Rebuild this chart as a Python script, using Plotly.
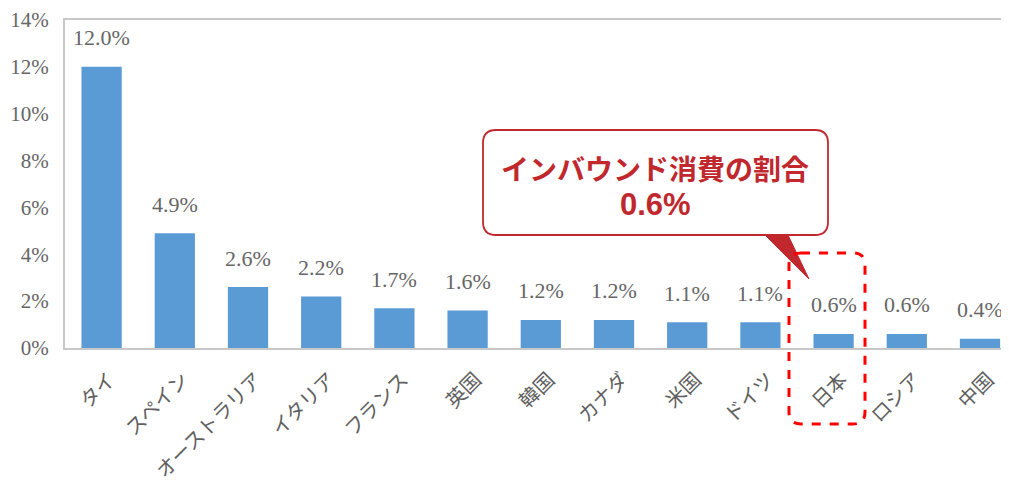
import plotly.graph_objects as go

categories = ["タイ", "スペイン", "オーストラリア", "イタリア", "フランス", "英国", "韓国",
              "カナダ", "米国", "ドイツ", "日本", "ロシア", "中国"]
values = [12.0, 4.9, 2.6, 2.2, 1.7, 1.6, 1.2, 1.2, 1.1, 1.1, 0.6, 0.6, 0.4]
value_labels = ["12.0%", "4.9%", "2.6%", "2.2%", "1.7%", "1.6%", "1.2%", "1.2%",
                "1.1%", "1.1%", "0.6%", "0.6%", "0.4%"]
ytick_vals = [0, 2, 4, 6, 8, 10, 12, 14]
ytick_text = ["0%", "2%", "4%", "6%", "8%", "10%", "12%", "14%"]
callout_title = "インバウンド消費の割合"
callout_value = "0.6%"

W, H = 1009, 486
OFF = 8  # page body margin offset
# plot area in screen pixels (right edge lies beyond the window, as in the reference)
L, R, T, B = 65, 1017, 20, 348
BAND = 73.2

def px(x):
    return (x - L) / (R - L)

def py(y):
    return (B - y) / (B - T)

serif = "Liberation Serif, DejaVu Serif, serif"
jp = "Noto Sans CJK JP, sans-serif"

fig = go.Figure()
xs = list(range(len(categories)))
fig.add_trace(go.Bar(
    x=xs, y=values,
    marker=dict(color="#5B9BD5", line=dict(width=0)),
    width=0.55,
    hoverinfo="skip",
))

annotations = []
for xi, v, lab in zip(xs, values, value_labels):
    annotations.append(dict(x=xi, y=v, xref="x", yref="y", text=lab, showarrow=False,
                            xanchor="center", yanchor="middle", yshift=29,
                            font=dict(family=serif, size=22, color="#666666")))


def rounded_rect(x0, y0, x1, y1, r):
    pts = [
        ("M", x0 + r, y0), ("L", x1 - r, y0), ("Q", x1, y0, x1, y0 + r),
        ("L", x1, y1 - r), ("Q", x1, y1, x1 - r, y1), ("L", x0 + r, y1),
        ("Q", x0, y1, x0, y1 - r), ("L", x0, y0 + r), ("Q", x0, y0, x0 + r, y0),
    ]
    s = ""
    for p in pts:
        cmd = p[0]
        coords = p[1:]
        parts = []
        for i in range(0, len(coords), 2):
            parts.append(f"{px(coords[i]):.5f},{py(coords[i+1]):.5f}")
        s += cmd + " ".join(parts) + " "
    return s + "Z"

shapes = []
shapes.append(dict(type="path", xref="paper", yref="paper",
                   path=f"M{px(763):.5f},{py(233):.5f} L{px(787):.5f},{py(233):.5f} L{px(809):.5f},{py(279):.5f} Z",
                   fillcolor="#c0282d", line=dict(color="#c0282d", width=1), layer="above"))
shapes.append(dict(type="path", xref="paper", yref="paper",
                   path=rounded_rect(483, 130, 828, 235, 13),
                   fillcolor="white", line=dict(color="#c0282d", width=1.8), layer="above"))
shapes.append(dict(type="path", xref="paper", yref="paper",
                   path=rounded_rect(789, 253, 865, 424, 12),
                   fillcolor="rgba(0,0,0,0)", line=dict(color="#ff0000", width=3, dash="dash"),
                   layer="above"))

annotations += [
    dict(xref="paper", yref="paper", x=px(655), y=py(168), text=f"<b>{callout_title}</b>",
         showarrow=False, font=dict(family=jp, size=28, color="#c0282d"),
         xanchor="center", yanchor="middle"),
    dict(xref="paper", yref="paper", x=px(655), y=py(205), text=f"<b>{callout_value}</b>",
         showarrow=False, font=dict(family="Liberation Sans, Arial, sans-serif", size=31, color="#c0282d"),
         xanchor="center", yanchor="middle"),
]

fig.update_layout(
    width=W, height=H,
    margin=dict(l=L - OFF, r=W - (R - OFF), t=T - OFF, b=H - (B - OFF), autoexpand=False),
    paper_bgcolor="white", plot_bgcolor="white",
    showlegend=False,
    shapes=shapes,
    annotations=annotations,
    xaxis=dict(
        range=[-0.5, -0.5 + (R - L) / BAND],
        tickmode="array", tickvals=xs, ticktext=categories,
        tickangle=-45,
        tickfont=dict(family=jp, size=20, color="#606060"),
        showline=True, linecolor="#c8c8c8", linewidth=2, mirror=True,
        ticks="", showgrid=False, zeroline=False, fixedrange=True,
        automargin=False, ticklabelstandoff=10, ticklabelshift=8,
    ),
    yaxis=dict(
        range=[0, 14],
        tickmode="array", tickvals=ytick_vals, ticktext=ytick_text,
        tickfont=dict(family=serif, size=21, color="#666666"),
        showline=True, linecolor="#c8c8c8", linewidth=2, mirror=True,
        ticks="", showgrid=False, zeroline=False, ticklabelstandoff=10,
        automargin=False,
    ),
)

fig.write_html("out.html")
